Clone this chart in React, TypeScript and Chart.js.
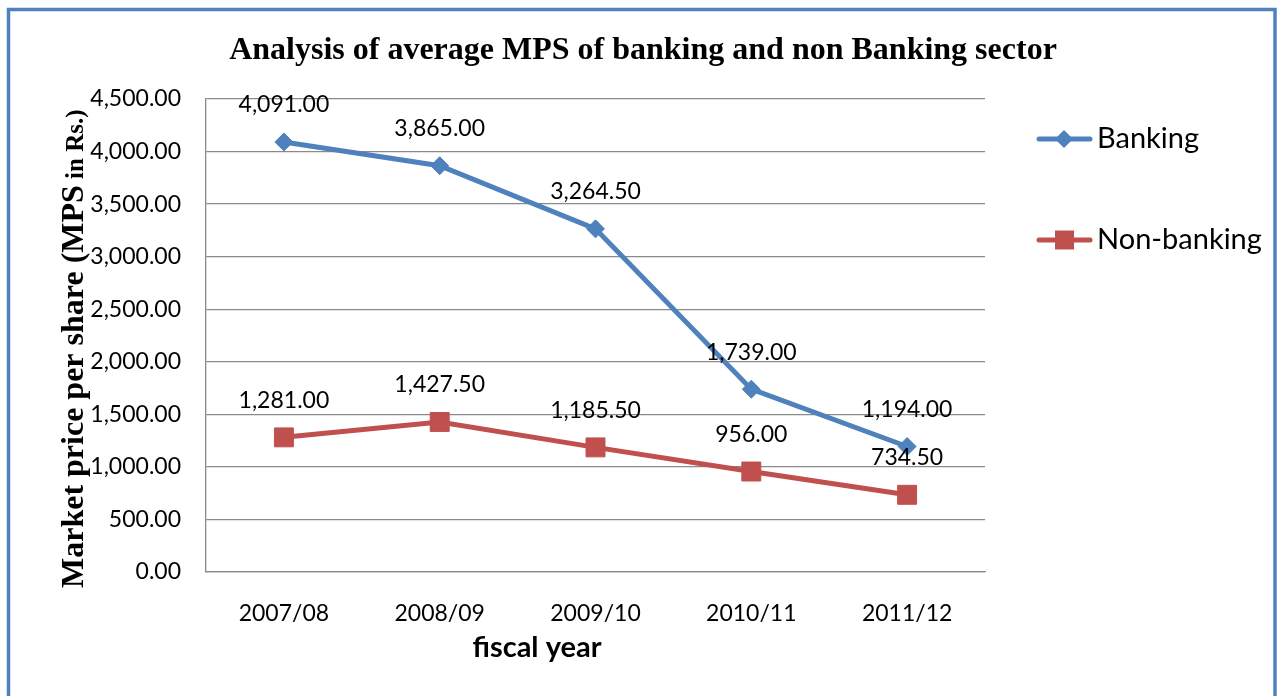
import { useEffect, useRef } from 'react';
import { Chart, registerables } from 'chart.js';

Chart.register(...registerables);

// Fiscal years on the category axis
const fiscalYears = ['2007/08', '2008/09', '2009/10', '2010/11', '2011/12'];

// Average market price per share (Rs.)
const bankingMps = [4091, 3865, 3264.5, 1739, 1194];
const nonBankingMps = [1281, 1427.5, 1185.5, 956, 734.5];

// Value axis range
const axisMin = 0;
const axisMax = 4500;
const axisStep = 500;

const chartTitle = 'Analysis of average MPS of banking and non Banking sector';
const yTitleMain = 'Market price per share (MPS';
const yTitleTail = ' in Rs.)';
const xTitle = 'fiscal year';
const seriesNames = ['Banking', 'Non-banking'];

const BLUE = '#4F81BD';
const RED = '#C0504D';
const GRID = '#8a8a8a';
const SANS = 'Lato, "Open Sans", sans-serif';
const SERIF = '"Liberation Serif", "DejaVu Serif", serif';

const fmt = (v: number) =>
  v.toLocaleString('en-US', { minimumFractionDigits: 2, maximumFractionDigits: 2 });

const decorations = {
  id: 'decorations',
  afterDatasetsDraw(chart: any) {
    const ctx = chart.ctx as CanvasRenderingContext2D;
    ctx.save();
    ctx.fillStyle = '#000';
    ctx.font = `23px ${SANS}`;
    ctx.textAlign = 'center';
    ctx.textBaseline = 'middle';
    chart.data.datasets.forEach((ds: any, i: number) => {
      const meta = chart.getDatasetMeta(i);
      meta.data.forEach((pt: any, j: number) => {
        ctx.fillText(fmt(ds.data[j]), pt.x, pt.y - 37);
      });
    });
    ctx.restore();
  },
  afterDraw(chart: any) {
    const ctx = chart.ctx as CanvasRenderingContext2D;
    ctx.save();

    // outer frame
    ctx.strokeStyle = BLUE;
    ctx.lineWidth = 3.5;
    ctx.strokeRect(8.5, 9.5, 1266.5, 720);

    // chart title
    ctx.fillStyle = '#000';
    ctx.font = `bold 32px ${SERIF}`;
    ctx.textAlign = 'center';
    ctx.textBaseline = 'alphabetic';
    ctx.fillText(chartTitle, 643, 59);

    // value axis title, rotated, with a smaller tail
    ctx.save();
    ctx.translate(83, 588);
    ctx.rotate(-Math.PI / 2);
    ctx.textAlign = 'left';
    ctx.font = `bold 32px ${SERIF}`;
    ctx.fillText(yTitleMain, 0, 0);
    const w = ctx.measureText(yTitleMain).width;
    ctx.font = `bold 25px ${SERIF}`;
    ctx.fillText(yTitleTail, w, 0);
    ctx.restore();

    // category axis title
    ctx.font = `bold 29px ${SANS}`;
    ctx.textAlign = 'center';
    ctx.textBaseline = 'middle';
    ctx.fillText(xTitle, 537, 648);

    // legend
    const rows = [
      { y: 139, color: BLUE, style: 'diamond' },
      { y: 240, color: RED, style: 'square' },
    ];
    rows.forEach((r, i) => {
      ctx.strokeStyle = r.color;
      ctx.lineWidth = 5;
      ctx.lineCap = 'round';
      ctx.beginPath();
      ctx.moveTo(1039, r.y);
      ctx.lineTo(1090, r.y);
      ctx.stroke();
      ctx.fillStyle = r.color;
      ctx.beginPath();
      if (r.style === 'diamond') {
        ctx.moveTo(1064, r.y - 9);
        ctx.lineTo(1073, r.y);
        ctx.lineTo(1064, r.y + 9);
        ctx.lineTo(1055, r.y);
        ctx.closePath();
      } else {
        ctx.rect(1055, r.y - 9.5, 19, 19);
      }
      ctx.fill();
      ctx.fillStyle = '#000';
      ctx.font = `29px ${SANS}`;
      ctx.textAlign = 'left';
      ctx.textBaseline = 'middle';
      ctx.fillText(seriesNames[i], 1097, r.y);
    });

    ctx.restore();
  },
};

export default function App() {
  const canvasRef = useRef<HTMLCanvasElement | null>(null);

  useEffect(() => {
    if (!canvasRef.current) return;
    const chart = new Chart(canvasRef.current, {
      type: 'line',
      data: {
        labels: fiscalYears,
        datasets: [
          {
            label: seriesNames[0],
            data: bankingMps,
            borderColor: BLUE,
            backgroundColor: BLUE,
            borderWidth: 5,
            pointStyle: 'rectRot',
            pointRadius: 9,
            pointBorderWidth: 1,
            tension: 0,
          },
          {
            label: seriesNames[1],
            data: nonBankingMps,
            borderColor: RED,
            backgroundColor: RED,
            borderWidth: 5,
            pointStyle: 'rect',
            pointRadius: 13.4,
            pointBorderWidth: 1,
            tension: 0,
          },
        ],
      },
      options: {
        responsive: false,
        animation: false,
        layout: { padding: { top: 99, right: 294, bottom: 0, left: 0 } },
        plugins: {
          legend: { display: false },
          title: { display: false },
          tooltip: { enabled: false },
        },
        scales: {
          x: {
            offset: true,
            grid: { display: false },
            border: { display: true, color: GRID, width: 1.3 },
            ticks: {
              color: '#000',
              font: { family: SANS, size: 23 },
              padding: 20,
            },
            afterFit: (scale: any) => {
              scale.height = 124;
            },
          },
          y: {
            min: axisMin,
            max: axisMax,
            ticks: {
              stepSize: axisStep,
              color: '#000',
              font: { family: SANS, size: 23 },
              padding: 25,
              callback: (v: any) => fmt(Number(v)),
            },
            grid: { color: GRID, lineWidth: 1.3, drawTicks: false },
            border: { display: true, color: GRID, width: 1.3 },
            afterFit: (scale: any) => {
              scale.width = 206;
            },
          },
        },
      },
      plugins: [decorations],
    });
    return () => chart.destroy();
  }, []);

  return (
    <div style={{ position: 'absolute', left: 0, top: 0, width: 1279, height: 696, background: '#fff' }}>
      <canvas ref={canvasRef} width={1279} height={696} />
    </div>
  );
}
